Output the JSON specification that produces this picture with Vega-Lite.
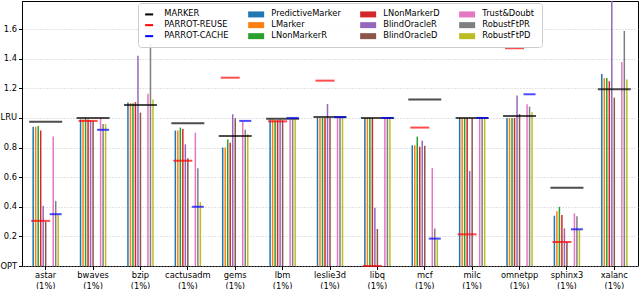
{
  "$schema": "https://vega.github.io/schema/vega-lite/v6.json",
  "autosize": "none",
  "width": 616,
  "height": 265,
  "padding": {"left": 22, "right": 2, "top": 1, "bottom": 23},
  "background": "white",
  "config": {
    "font": "DejaVu Sans",
    "view": {"stroke": "#000", "strokeWidth": 1},
    "axis": {"labelFont": "DejaVu Sans", "labelFontSize": 8.3, "labelColor": "#000", "tickColor": "#000", "domainColor": "#000", "titleFont": "DejaVu Sans"}
  },
  "data": {"values": [
    {"bench": "astar", "series": "PredictiveMarker", "value": 0.94},
    {"bench": "astar", "series": "LMarker", "value": 0.94},
    {"bench": "astar", "series": "LNonMarkerR", "value": 0.945},
    {"bench": "astar", "series": "LNonMarkerD", "value": 0.915},
    {"bench": "astar", "series": "BlindOracleR", "value": 0.405},
    {"bench": "astar", "series": "BlindOracleD", "value": 0.30},
    {"bench": "astar", "series": "Trust&Doubt", "value": 0.875},
    {"bench": "astar", "series": "RobustFtPR", "value": 0.44},
    {"bench": "astar", "series": "RobustFtPD", "value": 0.35},
    {"bench": "astar", "series": "MARKER", "value": 0.975},
    {"bench": "astar", "series": "PARROT-REUSE", "value": 0.305},
    {"bench": "astar", "series": "PARROT-CACHE", "value": 0.35},

    {"bench": "bwaves", "series": "PredictiveMarker", "value": 0.99},
    {"bench": "bwaves", "series": "LMarker", "value": 0.99},
    {"bench": "bwaves", "series": "LNonMarkerR", "value": 1.0},
    {"bench": "bwaves", "series": "LNonMarkerD", "value": 0.99},
    {"bench": "bwaves", "series": "BlindOracleR", "value": 0.985},
    {"bench": "bwaves", "series": "BlindOracleD", "value": 0.98},
    {"bench": "bwaves", "series": "Trust&Doubt", "value": 1.0},
    {"bench": "bwaves", "series": "RobustFtPR", "value": 0.96},
    {"bench": "bwaves", "series": "RobustFtPD", "value": 0.96},
    {"bench": "bwaves", "series": "MARKER", "value": 1.0},
    {"bench": "bwaves", "series": "PARROT-REUSE", "value": 0.98},
    {"bench": "bwaves", "series": "PARROT-CACHE", "value": 0.92},

    {"bench": "bzip", "series": "PredictiveMarker", "value": 1.105},
    {"bench": "bzip", "series": "LMarker", "value": 1.10},
    {"bench": "bzip", "series": "LNonMarkerR", "value": 1.10},
    {"bench": "bzip", "series": "LNonMarkerD", "value": 1.107},
    {"bench": "bzip", "series": "BlindOracleR", "value": 1.42},
    {"bench": "bzip", "series": "BlindOracleD", "value": 1.036},
    {"bench": "bzip", "series": "Trust&Doubt", "value": 1.163},
    {"bench": "bzip", "series": "RobustFtPR", "value": 1.50},
    {"bench": "bzip", "series": "RobustFtPD", "value": 1.125},
    {"bench": "bzip", "series": "MARKER", "value": 1.088},

    {"bench": "cactusadm", "series": "PredictiveMarker", "value": 0.915},
    {"bench": "cactusadm", "series": "LMarker", "value": 0.915},
    {"bench": "cactusadm", "series": "LNonMarkerR", "value": 0.935},
    {"bench": "cactusadm", "series": "LNonMarkerD", "value": 0.925},
    {"bench": "cactusadm", "series": "BlindOracleR", "value": 0.822},
    {"bench": "cactusadm", "series": "BlindOracleD", "value": 0.728},
    {"bench": "cactusadm", "series": "Trust&Doubt", "value": 0.90},
    {"bench": "cactusadm", "series": "RobustFtPR", "value": 0.66},
    {"bench": "cactusadm", "series": "RobustFtPD", "value": 0.432},
    {"bench": "cactusadm", "series": "MARKER", "value": 0.964},
    {"bench": "cactusadm", "series": "PARROT-REUSE", "value": 0.711},
    {"bench": "cactusadm", "series": "PARROT-CACHE", "value": 0.40},

    {"bench": "gems", "series": "PredictiveMarker", "value": 0.80},
    {"bench": "gems", "series": "LMarker", "value": 0.80},
    {"bench": "gems", "series": "LNonMarkerR", "value": 0.855},
    {"bench": "gems", "series": "LNonMarkerD", "value": 0.833},
    {"bench": "gems", "series": "BlindOracleR", "value": 1.025},
    {"bench": "gems", "series": "BlindOracleD", "value": 0.998},
    {"bench": "gems", "series": "Trust&Doubt", "value": 0.975},
    {"bench": "gems", "series": "RobustFtPR", "value": 0.92},
    {"bench": "gems", "series": "RobustFtPD", "value": 0.89},
    {"bench": "gems", "series": "MARKER", "value": 0.878},
    {"bench": "gems", "series": "PARROT-REUSE", "value": 1.272},
    {"bench": "gems", "series": "PARROT-CACHE", "value": 0.98},

    {"bench": "lbm", "series": "PredictiveMarker", "value": 0.99},
    {"bench": "lbm", "series": "LMarker", "value": 0.99},
    {"bench": "lbm", "series": "LNonMarkerR", "value": 0.985},
    {"bench": "lbm", "series": "LNonMarkerD", "value": 0.985},
    {"bench": "lbm", "series": "BlindOracleR", "value": 0.99},
    {"bench": "lbm", "series": "BlindOracleD", "value": 0.985},
    {"bench": "lbm", "series": "Trust&Doubt", "value": 0.99},
    {"bench": "lbm", "series": "RobustFtPR", "value": 0.99},
    {"bench": "lbm", "series": "RobustFtPD", "value": 0.99},
    {"bench": "lbm", "series": "MARKER", "value": 0.995},
    {"bench": "lbm", "series": "PARROT-REUSE", "value": 0.977},
    {"bench": "lbm", "series": "PARROT-CACHE", "value": 1.0},

    {"bench": "leslie3d", "series": "PredictiveMarker", "value": 1.0},
    {"bench": "leslie3d", "series": "LMarker", "value": 1.0},
    {"bench": "leslie3d", "series": "LNonMarkerR", "value": 1.0},
    {"bench": "leslie3d", "series": "LNonMarkerD", "value": 1.0},
    {"bench": "leslie3d", "series": "BlindOracleR", "value": 1.095},
    {"bench": "leslie3d", "series": "BlindOracleD", "value": 1.0},
    {"bench": "leslie3d", "series": "Trust&Doubt", "value": 1.0},
    {"bench": "leslie3d", "series": "RobustFtPR", "value": 1.0},
    {"bench": "leslie3d", "series": "RobustFtPD", "value": 1.0},
    {"bench": "leslie3d", "series": "MARKER", "value": 1.007},
    {"bench": "leslie3d", "series": "PARROT-REUSE", "value": 1.252},
    {"bench": "leslie3d", "series": "PARROT-CACHE", "value": 1.005},

    {"bench": "libq", "series": "PredictiveMarker", "value": 1.0},
    {"bench": "libq", "series": "LMarker", "value": 1.0},
    {"bench": "libq", "series": "LNonMarkerR", "value": 1.0},
    {"bench": "libq", "series": "LNonMarkerD", "value": 1.0},
    {"bench": "libq", "series": "BlindOracleR", "value": 0.394},
    {"bench": "libq", "series": "BlindOracleD", "value": 0.25},
    {"bench": "libq", "series": "Trust&Doubt", "value": 1.0},
    {"bench": "libq", "series": "RobustFtPR", "value": 1.0},
    {"bench": "libq", "series": "RobustFtPD", "value": 1.0},
    {"bench": "libq", "series": "MARKER", "value": 1.0},
    {"bench": "libq", "series": "PARROT-REUSE", "value": 0.0},
    {"bench": "libq", "series": "PARROT-CACHE", "value": 1.0},

    {"bench": "mcf", "series": "PredictiveMarker", "value": 0.815},
    {"bench": "mcf", "series": "LMarker", "value": 0.815},
    {"bench": "mcf", "series": "LNonMarkerR", "value": 0.874},
    {"bench": "mcf", "series": "LNonMarkerD", "value": 0.806},
    {"bench": "mcf", "series": "BlindOracleR", "value": 0.847},
    {"bench": "mcf", "series": "BlindOracleD", "value": 0.813},
    {"bench": "mcf", "series": "Trust&Doubt", "value": 0.662},
    {"bench": "mcf", "series": "RobustFtPR", "value": 0.254},
    {"bench": "mcf", "series": "RobustFtPD", "value": 0.18},
    {"bench": "mcf", "series": "MARKER", "value": 1.125},
    {"bench": "mcf", "series": "PARROT-REUSE", "value": 0.935},
    {"bench": "mcf", "series": "PARROT-CACHE", "value": 0.185},

    {"bench": "milc", "series": "PredictiveMarker", "value": 1.0},
    {"bench": "milc", "series": "LMarker", "value": 1.0},
    {"bench": "milc", "series": "LNonMarkerR", "value": 1.0},
    {"bench": "milc", "series": "LNonMarkerD", "value": 1.0},
    {"bench": "milc", "series": "BlindOracleR", "value": 0.642},
    {"bench": "milc", "series": "BlindOracleD", "value": 1.0},
    {"bench": "milc", "series": "Trust&Doubt", "value": 1.0},
    {"bench": "milc", "series": "RobustFtPR", "value": 1.0},
    {"bench": "milc", "series": "RobustFtPD", "value": 1.0},
    {"bench": "milc", "series": "MARKER", "value": 1.0},
    {"bench": "milc", "series": "PARROT-REUSE", "value": 0.214},
    {"bench": "milc", "series": "PARROT-CACHE", "value": 1.0},

    {"bench": "omnetpp", "series": "PredictiveMarker", "value": 1.0},
    {"bench": "omnetpp", "series": "LMarker", "value": 1.0},
    {"bench": "omnetpp", "series": "LNonMarkerR", "value": 1.0},
    {"bench": "omnetpp", "series": "LNonMarkerD", "value": 1.0},
    {"bench": "omnetpp", "series": "BlindOracleR", "value": 1.151},
    {"bench": "omnetpp", "series": "BlindOracleD", "value": 1.027},
    {"bench": "omnetpp", "series": "Trust&Doubt", "value": 1.092},
    {"bench": "omnetpp", "series": "RobustFtPR", "value": 1.076},
    {"bench": "omnetpp", "series": "RobustFtPD", "value": 1.038},
    {"bench": "omnetpp", "series": "MARKER", "value": 1.013},
    {"bench": "omnetpp", "series": "PARROT-REUSE", "value": 1.471},
    {"bench": "omnetpp", "series": "PARROT-CACHE", "value": 1.16},

    {"bench": "sphinx3", "series": "PredictiveMarker", "value": 0.34},
    {"bench": "sphinx3", "series": "LMarker", "value": 0.37},
    {"bench": "sphinx3", "series": "LNonMarkerR", "value": 0.40},
    {"bench": "sphinx3", "series": "LNonMarkerD", "value": 0.345},
    {"bench": "sphinx3", "series": "BlindOracleR", "value": 0.254},
    {"bench": "sphinx3", "series": "BlindOracleD", "value": 0.16},
    {"bench": "sphinx3", "series": "Trust&Doubt", "value": 0.356},
    {"bench": "sphinx3", "series": "RobustFtPR", "value": 0.336},
    {"bench": "sphinx3", "series": "RobustFtPD", "value": 0.245},
    {"bench": "sphinx3", "series": "MARKER", "value": 0.529},
    {"bench": "sphinx3", "series": "PARROT-REUSE", "value": 0.162},
    {"bench": "sphinx3", "series": "PARROT-CACHE", "value": 0.248},

    {"bench": "xalanc", "series": "PredictiveMarker", "value": 1.297},
    {"bench": "xalanc", "series": "LMarker", "value": 1.268},
    {"bench": "xalanc", "series": "LNonMarkerR", "value": 1.27},
    {"bench": "xalanc", "series": "LNonMarkerD", "value": 1.248},
    {"bench": "xalanc", "series": "BlindOracleR", "value": 2.0},
    {"bench": "xalanc", "series": "BlindOracleD", "value": 1.137},
    {"bench": "xalanc", "series": "Trust&Doubt", "value": 1.378},
    {"bench": "xalanc", "series": "RobustFtPR", "value": 1.588},
    {"bench": "xalanc", "series": "RobustFtPD", "value": 1.26},
    {"bench": "xalanc", "series": "MARKER", "value": 1.194}
  ]},
  "encoding": {
    "x": {
      "field": "bench", "type": "nominal", "sort": null,
      "scale": {"paddingInner": 0.44, "paddingOuter": 0.22},
      "axis": {"title": null, "labelAngle": 0, "tickSize": 3.5, "labelPadding": 1, "labelLineHeight": 10.5, "labelExpr": "[datum.label, '(1%)']", "grid": false, "domain": false}
    },
    "y": {
      "field": "value", "type": "quantitative",
      "scale": {"domain": [0, 1.79], "nice": false, "zero": true},
      "axis": {"title": null, "values": [0, 0.2, 0.4, 0.6, 0.8, 1.0, 1.2, 1.4, 1.6], "labelExpr": "datum.value == 0 ? 'OPT' : datum.value == 1 ? 'LRU' : format(datum.value, '.1f')", "tickSize": 3.5, "labelPadding": 2, "grid": true, "gridDash": [1, 2], "gridColor": "#b8b8b8", "gridWidth": 0.8, "domain": true}
    },
    "color": {
      "field": "series", "type": "nominal",
      "scale": {
        "domain": ["MARKER", "PredictiveMarker", "LNonMarkerD", "Trust&Doubt", "PARROT-REUSE", "LMarker", "BlindOracleR", "RobustFtPR", "PARROT-CACHE", "LNonMarkerR", "BlindOracleD", "RobustFtPD"],
        "range": ["#000000", "#1f77b4", "#d62728", "#e377c2", "#ff0000", "#ff7f0e", "#9467bd", "#7f7f7f", "#0000ff", "#2ca02c", "#8c564b", "#bcbd22"]
      },
      "legend": {
        "title": null, "orient": "none", "legendX": 116, "legendY": 2, "columns": 4, "direction": "horizontal",
        "symbolSize": 64, "labelOffset": 11, "labelFontSize": 8.3, "labelFont": "DejaVu Sans", "labelColor": "#000",
        "columnPadding": 19, "rowPadding": 2, "padding": 7,
        "fillColor": "rgba(255,255,255,0.85)", "strokeColor": "#cccccc", "cornerRadius": 3,
        "symbolStrokeWidth": 0, "symbolOpacity": 1,
        "encode": {"symbols": {"update": {"shape": {"signal": "indexof(['MARKER','PARROT-REUSE','PARROT-CACHE'], datum.value) >= 0 ? 'M-1,-0.25H1V0.25H-1Z' : 'M-2,-0.75H2V0.75H-2Z'"}, "strokeWidth": {"value": 0}}}}
      }
    }
  },
  "layer": [
    {
      "transform": [{"filter": {"not": {"field": "series", "oneOf": ["MARKER", "PARROT-REUSE", "PARROT-CACHE"]}}}],
      "mark": {"type": "bar", "clip": true},
      "encoding": {
        "xOffset": {"field": "series", "type": "nominal", "scale": {"domain": ["PredictiveMarker", "LMarker", "LNonMarkerR", "LNonMarkerD", "BlindOracleR", "BlindOracleD", "_gap1", "_gap2", "Trust&Doubt", "RobustFtPR", "RobustFtPD"], "paddingInner": 0.4, "paddingOuter": 0}}
      }
    },
    {
      "data": {"values": [{"v": 0}]},
      "mark": {"type": "rule", "color": "#b0b0b0", "strokeWidth": 2.5},
      "encoding": {"y": {"datum": 0}, "x": null, "color": null}
    },
    {
      "data": {"values": [{"v": 1}]},
      "mark": {"type": "rule", "color": "#a8a8a8", "strokeWidth": 1.2},
      "encoding": {"y": {"datum": 1}, "x": null, "color": null}
    },
    {
      "transform": [{"filter": {"field": "series", "equal": "MARKER"}}],
      "mark": {"type": "tick", "size": 33, "thickness": 2}
    },
    {
      "transform": [{"filter": {"field": "series", "equal": "PARROT-REUSE"}}],
      "mark": {"type": "tick", "size": 19, "thickness": 2, "xOffset": -5}
    },
    {
      "transform": [{"filter": {"field": "series", "equal": "PARROT-CACHE"}}],
      "mark": {"type": "tick", "size": 12, "thickness": 2, "xOffset": 10}
    }
  ]
}
